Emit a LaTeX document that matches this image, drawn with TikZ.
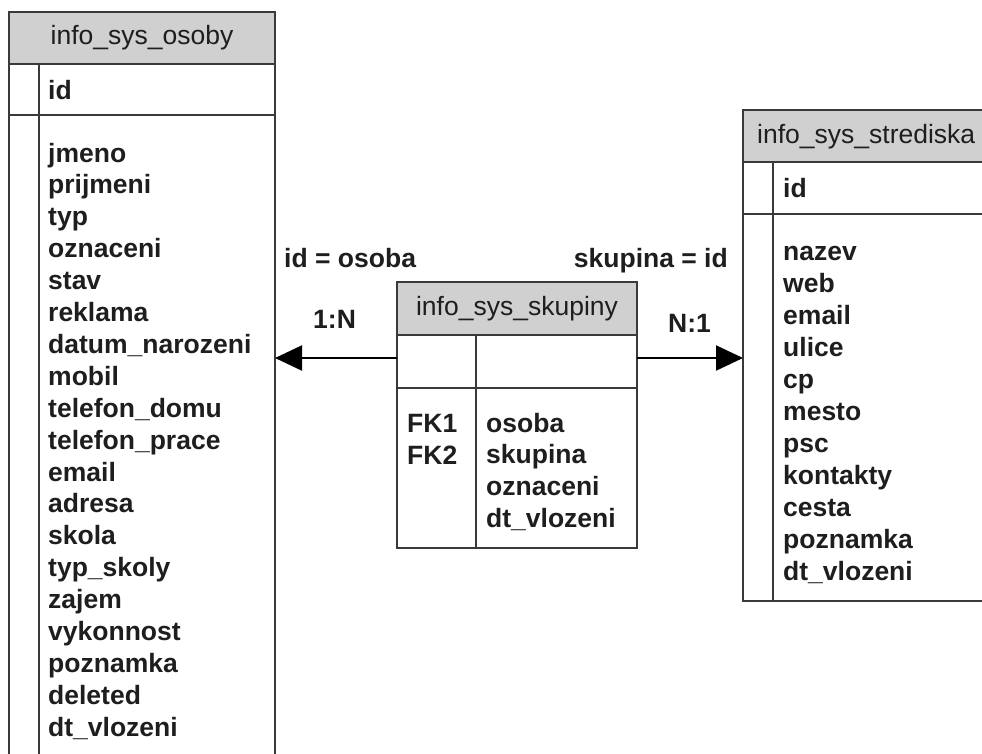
\documentclass[tikz,border=0pt]{standalone}
\usepackage{fontspec}
\setmainfont{Liberation Sans}
\usetikzlibrary{arrows.meta}
\definecolor{edge}{HTML}{3A3A3A}
\definecolor{headfill}{HTML}{D0D0D0}
\definecolor{ink}{HTML}{1E1E1E}
\begin{document}
\begin{tikzpicture}[x=1pt,y=-1pt,
  tbl/.style={draw=edge, line width=2pt, inner sep=0pt, outer sep=0pt},
  headbox/.style={fill=headfill, inner sep=0pt, outer sep=0pt, text=ink,
    font=\fontsize{26.5}{32}\selectfont},
  sep/.style={draw=edge, line width=2pt},
  field/.style={inner sep=0pt, anchor=base west, text=ink,
    font=\fontsize{26.5}{32}\selectfont\bfseries},
  lbl/.style={inner sep=0pt, text=ink, font=\fontsize{26.5}{32}\selectfont\bfseries},
  rel/.style={draw=black, line width=2.2pt,
    -{Triangle[length=27pt,width=25pt]}}]
\clip (0,0) rectangle (982,753);
\fill[white] (0,0) rectangle (982,753);

% ---------- info_sys_osoby ----------
\node[headbox, minimum width=266pt, minimum height=52pt, anchor=north west]
  (os-h) at (9,12) {info\_sys\_osoby};
\node[tbl, minimum width=266pt, minimum height=760pt, anchor=north west]
  (os) at (9,12) {};
\draw[sep] (9,64) -- (275,64);
\draw[sep] (9,115) -- (275,115);
\draw[sep] (39,64) -- (39,770);
\node[field] (os-id) at (48,99) {id};
\foreach \f [count=\i from 0] in {jmeno,prijmeni,typ,oznaceni,stav,reklama,
    datum\_narozeni,mobil,telefon\_domu,telefon\_prace,email,adresa,skola,
    typ\_skoly,zajem,vykonnost,poznamka,deleted,dt\_vlozeni}
  \node[field] (os-f\i) at (48,{162+\i*31.9}) {\f};

% ---------- info_sys_skupiny ----------
\node[headbox, minimum width=240pt, minimum height=53pt, anchor=north west]
  (sk-h) at (397,282) {info\_sys\_skupiny};
\node[tbl, minimum width=240pt, minimum height=266pt, anchor=north west]
  (sk) at (397,282) {};
\draw[sep] (397,335) -- (637,335);
\draw[sep] (397,388) -- (637,388);
\draw[sep] (476,335) -- (476,548);
\node[field] (sk-k1) at (407,432) {FK1};
\node[field] (sk-k2) at (407,464) {FK2};
\foreach \f [count=\i from 0] in {osoba,skupina,oznaceni,dt\_vlozeni}
  \node[field] (sk-f\i) at (486,{432+\i*31.7}) {\f};

% ---------- info_sys_strediska ----------
\fill[headfill] (743,110) rectangle (995,162);
\node[inner sep=0pt, anchor=base west, text=ink,
  font=\fontsize{26.5}{32}\selectfont] (st-h) at (757,143) {info\_sys\_strediska};
\node[tbl, minimum width=252pt, minimum height=491pt, anchor=north west]
  (st) at (743,110) {};
\draw[sep] (743,162) -- (995,162);
\draw[sep] (743,214) -- (995,214);
\draw[sep] (773,162) -- (773,601);
\node[field] (st-id) at (783,197) {id};
\foreach \f [count=\i from 0] in {nazev,web,email,ulice,cp,mesto,psc,kontakty,
    cesta,poznamka,dt\_vlozeni}
  \node[field] (st-f\i) at (783,{260+\i*32}) {\f};

% ---------- relationships ----------
\coordinate (ay) at (0,358);
\draw[rel] (ay -| sk.west) -- (ay -| os.east);
\draw[rel] (ay -| sk.east) -- (ay -| st.west);

\node[lbl, anchor=base west] (l-cond) at (284,267) {id = osoba};
\node[lbl, anchor=base west] (l-card) at (313,328) {1:N};
\node[lbl, anchor=base east] (r-cond) at (728,267) {skupina = id};
\node[lbl, anchor=base west] (r-card) at (668,332) {N:1};
\end{tikzpicture}
\end{document}
